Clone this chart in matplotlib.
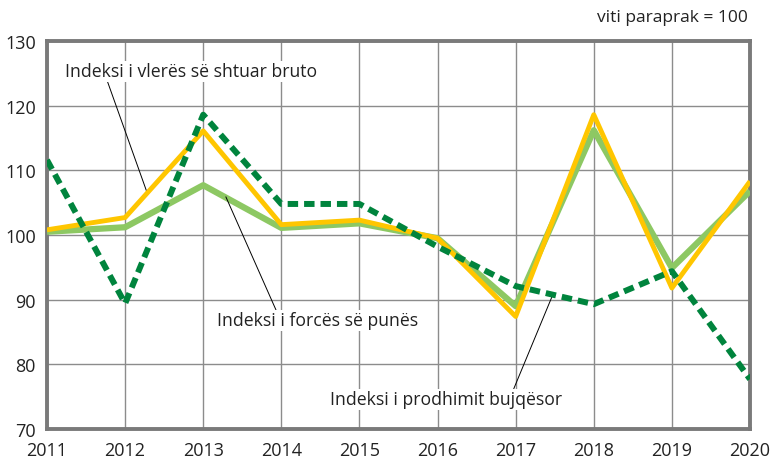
import matplotlib
matplotlib.use("Agg")
import matplotlib.pyplot as plt

years = [2011, 2012, 2013, 2014, 2015, 2016, 2017, 2018, 2019, 2020]
gva = [100.8, 102.7, 116.1, 101.6, 102.3, 99.5, 87.4, 118.6, 91.8, 108.3]
labor = [100.5, 101.2, 107.7, 101.1, 101.8, 99.5, 89.0, 116.2, 94.9, 106.8]
agri = [111.6, 89.4, 118.6, 104.8, 104.8, 98.2, 92.1, 89.3, 94.4, 77.7]
yticks = [70, 80, 90, 100, 110, 120, 130]

plt.rcParams['font.family'] = ['Open Sans', 'DejaVu Sans']

fig = plt.figure(figsize=(7.74, 4.64), dpi=100)
ax = fig.add_axes([47/774, 1-430/464, (750-47)/774, (430-42)/464])

ax.plot(years, labor, color='#8DC863', lw=4.5, solid_capstyle='butt', zorder=3)
ax.plot(years, gva, color='#FFC600', lw=3.5, solid_capstyle='butt', zorder=4)
ax.plot(years, agri, color='#00843D', lw=4.3, dashes=(1.75, 1.0), zorder=5)

ax.set_xlim(2011, 2020)
ax.set_ylim(70, 130)
ax.set_xticks(years)
ax.set_yticks(yticks)
ax.grid(True, color='#8c8c8c', lw=1.0)
ax.set_axisbelow(True)
for s in ax.spines.values():
    s.set_color('#7a7a7a')
    s.set_linewidth(2.8)
ax.tick_params(length=0, labelsize=13, colors='#222222')
ax.tick_params(axis='x', pad=9)
ax.tick_params(axis='y', pad=8)

tkw = dict(fontsize=12.7, color='#222222', va='center', ha='left')
ax.annotate('Indeksi i vlerës së shtuar bruto', xy=(2012.28, 106.6), xytext=(2011.23, 125.3),
            arrowprops=dict(arrowstyle='-', color='black', lw=0.7, shrinkA=0, shrinkB=0,
                            relpos=(0.167, 0.0)),
            bbox=dict(fc='white', ec='none', pad=1), **tkw)
ax.annotate('Indeksi i forcës së punës', xy=(2013.29, 105.9), xytext=(2013.18, 86.8),
            arrowprops=dict(arrowstyle='-', color='black', lw=0.7, shrinkA=0, shrinkB=0,
                            relpos=(0.295, 1.0)),
            bbox=dict(fc='white', ec='none', pad=1), **tkw)
ax.annotate('Indeksi i prodhimit bujqësor', xy=(2017.48, 90.9), xytext=(2014.62, 74.6),
            arrowprops=dict(arrowstyle='-', color='black', lw=0.7, shrinkA=0, shrinkB=0,
                            relpos=(0.79, 1.0)),
            bbox=dict(fc='white', ec='none', pad=1), **tkw)

fig.text(748/774, 1-18/464, 'viti paraprak = 100', ha='right', va='center', fontsize=12.5, color='#222222')

fig.savefig('out.png', dpi=100)
